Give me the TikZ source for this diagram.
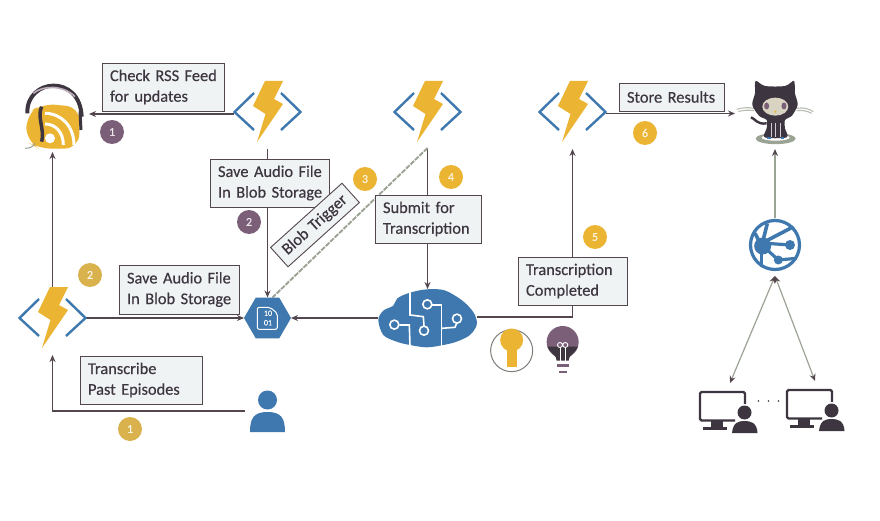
\documentclass[tikz,border=0pt]{standalone}
\usepackage{fontspec}
\setmainfont[FakeBold=0.35,AutoFakeBold=0.35]{Carlito}
\usetikzlibrary{arrows.meta,shapes.geometric}
\newcommand{\lbline}[1]{\mbox{#1}}
\definecolor{azblue}{HTML}{3E78AE}
\definecolor{bolt}{HTML}{EBB432}
\definecolor{ink}{HTML}{3D3640}
\definecolor{plum}{HTML}{7B5F78}
\definecolor{wire}{HTML}{54464F}
\definecolor{sage}{HTML}{9BA394}
\definecolor{boxfill}{HTML}{F0F3F3}
\definecolor{fadeorange}{HTML}{D9B24E}
\definecolor{catface}{HTML}{D9D3C2}
\tikzset{
  x=1pt,y=-1pt,
  hook/.style={inner sep=0pt,outer sep=0pt,draw=none},
  flow/.style={draw=wire,line width=1.6pt,-{Stealth[length=7pt,width=6pt]}},
  lbl/.style={draw=wire,line width=.9pt,fill=boxfill,text=ink,align=left,inner xsep=8pt,inner ysep=0pt,
    font=\fontsize{16.4}{20.7}\selectfont},
  badge/.style={circle,minimum size=24pt,inner sep=0pt,fill=#1,text=white!85!#1,font=\fontsize{12}{12}\selectfont\bfseries},
  funcicon/.pic={
    \draw[azblue,line width=2.4pt] (-13.5,-19) -- (-33,0) -- (-13.5,18);
    \draw[azblue,line width=2.4pt] (13.5,-19) -- (33,0) -- (13.5,18);
    \fill[bolt] (-2.5,-31) -- (15.5,-31) -- (6.5,-13) -- (15.5,-8) -- (-10.5,30) -- (-2,2) -- (-14.5,-6) -- cycle;
  },
  deskuser/.pic={
    \draw[ink,line width=2.2pt,rounded corners=1.5pt] (34,6) -- (34,-14) -- (-11,-14) -- (-11,14.5) -- (24,14.5);
    \fill[ink] (0,14) rectangle (12,22);
    \fill[ink] (-8,21) rectangle (16,24);
    \fill[white] (33.5,6.5) circle[radius=8.5pt];
    \fill[ink] (33.5,6.5) circle[radius=7pt];
    \fill[ink] (21,27) .. controls (22,16) and (28,15) .. (33.5,15) .. controls (39,15) and (46,16) .. (46.5,27) -- cycle;
  }
}
\begin{document}
\begin{tikzpicture}
\useasboundingbox (0,0) rectangle (880,521);
\fill[white] (0,0) rectangle (880,521);

% anchor nodes of the icons
\node[hook,minimum width=73pt,minimum height=68pt] (rss) at (52.5,118) {};
\node[hook,minimum width=67pt,minimum height=74pt] (f0) at (52.5,318) {};
\node[hook,minimum width=67pt,minimum height=74pt] (f1) at (267.5,112) {};
\node[hook,minimum width=67pt,minimum height=72pt] (f2) at (427.5,112) {};
\node[hook,minimum width=67pt,minimum height=74pt] (f3) at (572.5,112) {};
\node[hook,minimum width=47pt,minimum height=41pt] (blob) at (267.5,318) {};
\node[hook,minimum width=99pt,minimum height=58pt] (brain) at (427.5,318) {};
\node[hook,minimum width=45pt,minimum height=44pt] (person) at (267.5,411) {};
\node[hook,minimum width=80pt,minimum height=74pt] (hub) at (775,112) {};
\node[hook,minimum width=54pt,minimum height=54pt] (globe) at (775,245) {};
\node[hook,minimum width=40pt,minimum height=50pt] (mon1) at (730,408) {};
\node[hook,minimum width=40pt,minimum height=50pt] (mon2) at (815,406) {};

% connectors
\draw[flow] ([yshift=-2pt]f1.west) -- ([yshift=4pt]rss.east);
\draw[flow] ([yshift=-6pt]f0.north) -- (rss.south);
\draw[flow] (f0.east) -- (blob.west);
\draw[flow] (f1.south) -- (blob.north);
\draw[flow] (f2.south) -- (brain.north);
\draw[draw=sage,line width=1.9pt,dash pattern=on 5pt off 1.2pt] (f2.south) -- ([xshift=5pt]blob.north);
\draw[flow] (brain.west) -- (blob.east);
\draw[flow] ([yshift=1pt]brain.east) -| (f3.south);
\draw[flow] ([yshift=-1.5pt]f3.east) -- ([yshift=-1.5pt]hub.west);
\draw[flow] (person.west) -| (f0.south);
\draw[draw=sage,line width=1.2pt,-{Stealth[length=7pt,width=6pt,color=wire]}] (globe.north) -- (hub.south);
\draw[draw=sage,line width=1.2pt,{Stealth[length=7pt,width=6pt,color=wire]}-{Stealth[length=7pt,width=6pt,color=wire]}] ([yshift=-4pt]globe.south) -- (mon1.north);
\draw[draw=sage,line width=1.2pt,{Stealth[length=7pt,width=6pt,color=wire]}-{Stealth[length=7pt,width=6pt,color=wire]}] ([yshift=-4pt]globe.south) -- (mon2.north);

% function icons
\pic at (f0.center) {funcicon};
\pic at (f1.center) {funcicon};
\pic at (f2.center) {funcicon};
\pic at (f3.center) {funcicon};

% podcast icon
\begin{scope}[shift={(0,50)},x=.3333pt,y=-.3333pt]
  \draw[ink,line width=4pt] (82,190) .. controls (78,85) and (240,70) .. (245,200);
  \draw[plum!50!white,line width=1.6pt] (100,130) .. controls (130,105) and (190,105) .. (225,140);
  \fill[bolt,rounded corners=14pt] (125,160) -- (240,172) -- (237,295) -- (118,297) -- (80,275) -- (78,195) -- cycle;
  \draw[ink,line width=3.5pt] (125,170) .. controls (110,200) and (135,240) .. (125,275);
  \draw[ink,line width=3pt] (240,185) -- (243,240);
  \fill[white] (150,265) circle[radius=5pt];
  \draw[white,line width=3pt] (135,222) .. controls (165,222) and (190,245) .. (190,285);
  \draw[white,line width=3pt] (135,190) .. controls (185,190) and (222,230) .. (222,285);
  \draw[sage,line width=1pt] (75,295) .. controls (90,295) and (100,290) .. (105,280);
\end{scope}

% blob storage icon
\node[regular polygon,regular polygon sides=6,fill=azblue,minimum size=47pt,inner sep=0pt] at (blob.center) {};
\begin{scope}[shift={(0,250)},x=.3333pt,y=-.3333pt]
  \draw[white,line width=1pt,rounded corners=2pt] (772,172) -- (810,172) -- (832,190) -- (832,238) -- (772,238) -- cycle;
\end{scope}
\node[text=white,align=center,inner sep=0pt,font=\fontsize{8}{9.5}\selectfont] at (268,318) {10\\01};

% brain icon
\begin{scope}[shift={(360,240)},x=.3333pt,y=-.3333pt]
  \fill[azblue] plot[smooth cycle,tension=.55] coordinates {(55,240) (70,212) (100,197) (112,175) (150,158) (200,148) (250,150) (290,170) (322,195) (345,225) (350,255) (330,285) (290,305) (250,315) (200,322) (150,315) (110,305) (70,285)};
  \draw[white,line width=1.6pt] (150,156) -- (150,225) -- (190,230) -- (192,258);
  \draw[white,line width=1.6pt] (150,318) -- (148,255) -- (118,255);
  \draw[white,line width=1.6pt] (245,318) -- (245,195) -- (216,195);
  \draw[white,line width=1.6pt] (245,265) -- (285,262) -- (290,250);
  \draw[white,line width=1.6pt] (192,272) circle[radius=4.5pt];
  \draw[white,line width=1.6pt] (103,254) circle[radius=4.5pt];
  \draw[white,line width=1.6pt] (202,193) circle[radius=4.5pt];
  \draw[white,line width=1.6pt] (291,236) circle[radius=4.5pt];
  % bulbs
  \draw[sage!60!wire,line width=1pt] (455,332) circle[radius=21pt];
  \fill[bolt] (455,300) circle[radius=11.5pt];
  \fill[bolt] (440,320) rectangle (470,382);
  \fill[plum] (608,306) circle[radius=16pt];
  \fill[ink] (562,320) .. controls (575,345) and (590,345) .. (590,362) -- (626,362) .. controls (626,345) and (642,345) .. (654,320) -- cycle;
  \draw[white,line width=.9pt] (600,362) -- (600,320) (616,362) -- (616,320);
  \draw[white,line width=.9pt] (600,315) circle[radius=2.5pt] (616,315) circle[radius=2.5pt];
  \fill[plum] (590,372) rectangle (626,380);
  \fill[plum] (596,392) rectangle (620,400);
\end{scope}

% person
\fill[azblue] (267.5,400) circle[radius=9.5pt];
\fill[azblue] (250,432) .. controls (250,418) and (254,412) .. (267.5,412) .. controls (281,412) and (285,418) .. (285,432) -- cycle;

% octocat
\begin{scope}[shift={(530,60)},x=.3333pt,y=-.3333pt]
  \fill[sage] (737,236) ellipse[x radius=20pt,y radius=5.5pt];
  \fill[white] (737,233) ellipse[x radius=14pt,y radius=3pt];
  \draw[sage!70!white,line width=1.1pt] (620,148) .. controls (640,142) and (655,142) .. (672,145);
  \draw[sage!70!white,line width=1.1pt] (625,155) .. controls (640,150) and (655,150) .. (672,152);
  \draw[sage!70!white,line width=1.1pt] (800,145) .. controls (820,142) and (835,145) .. (850,155);
  \draw[sage!70!white,line width=1.1pt] (800,152) .. controls (815,150) and (830,152) .. (845,160);
  \draw[ink,line width=2.4pt] (663,172) .. controls (675,175) and (680,195) .. (710,190);
  \fill[ink] plot[smooth cycle,tension=.5] coordinates {(677,63) (705,78) (765,78) (792,63) (795,100) (803,135) (785,168) (765,180) (765,205) (770,232) (704,232) (710,205) (710,180) (688,168) (667,135) (675,100)};
  \fill[azblue] (712,232) rectangle (722,237);
  \fill[azblue] (752,232) rectangle (762,237);
  \fill[catface] (736,140) ellipse[x radius=13pt,y radius=9pt];
  \fill[plum] (710,138) ellipse[x radius=2.5pt,y radius=3.5pt];
  \fill[plum] (762,138) ellipse[x radius=2.5pt,y radius=3.5pt];
  \fill[bolt] (736,155) circle[radius=1.2pt];
  \draw[white!75!ink,line width=.7pt] (725,190) -- (725,232) (737,190) -- (737,232) (750,190) -- (750,232);
\end{scope}

% globe
\begin{scope}[shift={(680,210)},x=.3333pt,y=-.3333pt]
  \fill[white] (285,105) circle[radius=26pt];
  \draw[azblue,line width=3.2pt] (285,105) circle[radius=24.5pt];
  \begin{scope}
    \clip (285,105) circle[radius=26pt];
    \draw[azblue,line width=3.6pt] (245,108) -- (262,40);
    \draw[azblue,line width=3.6pt] (245,108) -- (225,70);
    \draw[azblue,line width=3.6pt] (245,100) -- (350,45);
    \draw[azblue,line width=3.2pt] (260,100) -- (330,105);
    \draw[azblue,line width=3.2pt] (262,120) -- (295,150) -- (350,145);
    \draw[azblue,line width=3.2pt] (245,115) -- (245,185);
    \fill[azblue] (248,108) circle[radius=8.5pt];
    \fill[azblue] (330,105) circle[radius=5pt];
    \fill[azblue] (295,150) circle[radius=4.5pt];
  \end{scope}
\end{scope}

% desks
\pic at (711,406) {deskuser};
\pic at (798,404) {deskuser};
\fill[ink] (758.5,401) circle[radius=.9pt] (768.5,401) circle[radius=.9pt] (778.5,401) circle[radius=.9pt];

% labels
\node[lbl,text width=106pt,minimum height=48pt] (tcheck) at (163,87) {\lbline{Check RSS Feed}\\\lbline{for updates}};
\node[lbl,text width=103pt,minimum height=48pt] (tsave) at (269.5,183) {\lbline{Save Audio File}\\\lbline{In Blob Storage}};
\node[lbl,text width=88pt,inner xsep=4pt,minimum height=26pt,rotate=42,align=center] (ttrig) at (315,225) {\lbline{Blob Trigger}};
\node[lbl,text width=90pt,minimum height=48pt] (tsubmit) at (428,219) {\lbline{Submit for}\\\lbline{Transcription}};
\node[lbl,text width=93pt,minimum height=48pt] (tdone) at (572.5,281) {\lbline{Transcription}\\\lbline{Completed}};
\node[lbl,text width=89pt,minimum height=28pt] (tstore) at (671.5,97) {\lbline{Store Results}};
\node[lbl,text width=104pt,minimum height=49pt] (tlow) at (179,289.5) {\lbline{Save Audio File}\\\lbline{In Blob Storage}};
\node[lbl,text width=106pt,minimum height=48pt] (tpast) at (141,380) {\lbline{Transcribe}\\\lbline{Past Episodes}};

% step badges
\node[badge=plum] (n1) at (112,132) {1};
\node[badge=plum] (n2) at (249,222) {2};
\node[badge=bolt] (n3) at (365,179) {3};
\node[badge=bolt] (n4) at (451,177) {4};
\node[badge=bolt] (n5) at (595,237) {5};
\node[badge=bolt] (n6) at (645,133) {6};
\node[badge=fadeorange] (n7) at (90,275) {2};
\node[badge=fadeorange] (n8) at (130,429) {1};
\end{tikzpicture}
\end{document}
